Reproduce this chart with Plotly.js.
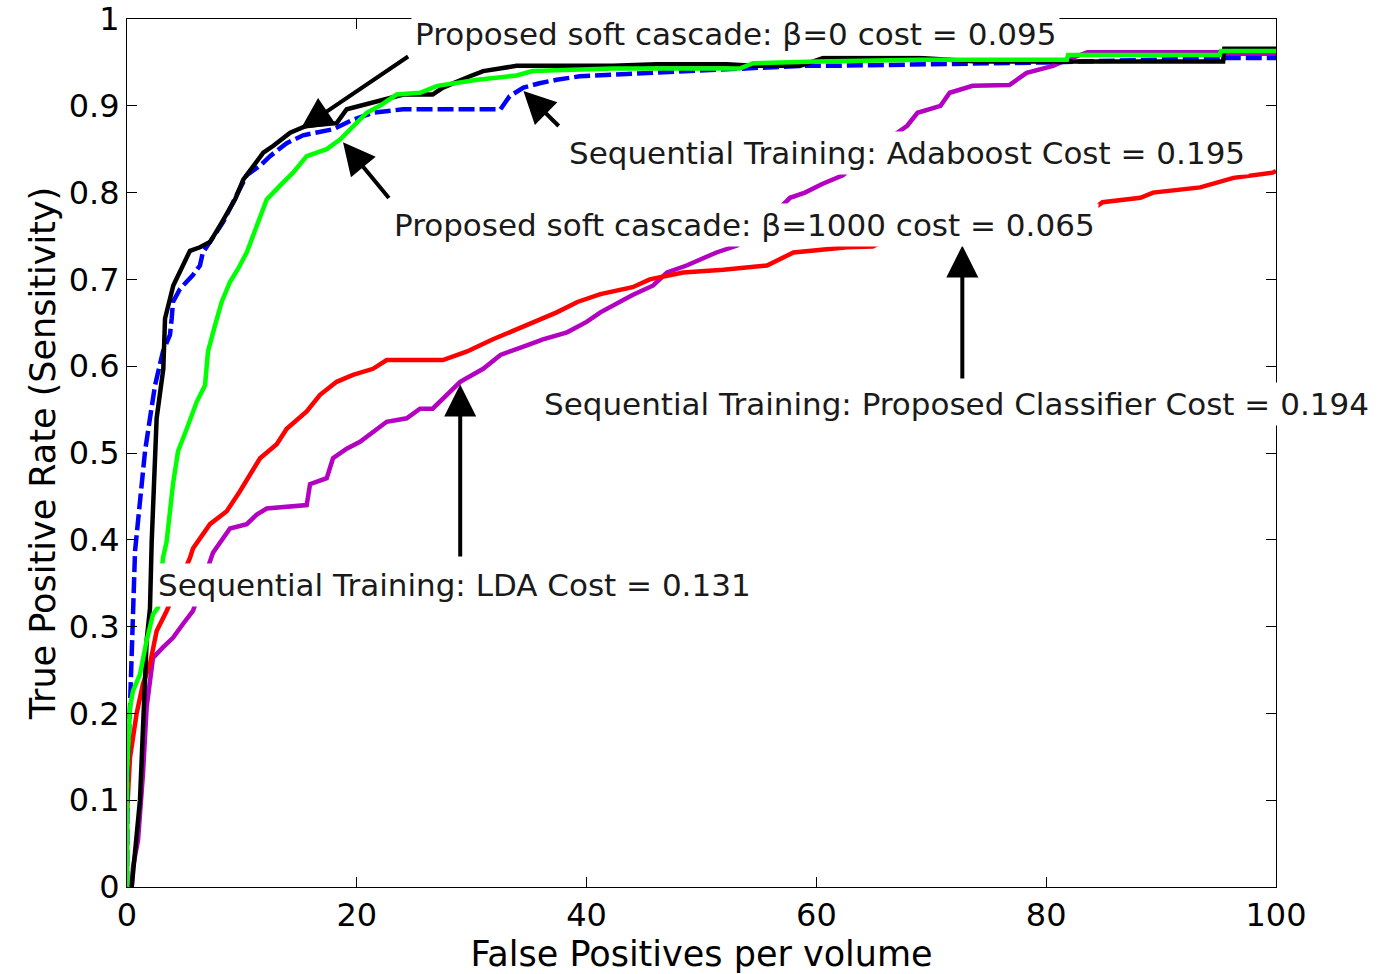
<!DOCTYPE html>
<html>
<head>
<meta charset="utf-8">
<script src="https://cdn.plot.ly/plotly-3.0.1.min.js"></script>
<style>
html,body{margin:0;padding:0;background:#fff;}
#chart{width:1379px;height:974px;}
</style>
</head>
<body>
<div id="chart"></div>
<script>
// Sequential Training: LDA (magenta)
const ldaX = [0.41,0.52,0.96,1.39,1.71,2.26,3.13,4.0,4.87,5.74,7.48,8.96,10.42,11.29,12.16,15.64,15.93,17.38,17.93,19.12,20.28,21.41,22.6,24.34,25.5,26.6,27.5,29.0,31.0,32.5,34.8,36.2,38.3,40.0,41.2,42.3,44.0,45.8,47.0,48.7,49.9,51.3,53.1,55.5,57.7,59.0,60.5,62.3,65.0,67.9,68.8,70.8,71.6,73.6,76.8,78.3,80.6,81.8,83.6,95.0,95.2,100];
const ldaY = [0,0.023,0.054,0.13,0.207,0.264,0.276,0.287,0.303,0.318,0.385,0.413,0.418,0.429,0.436,0.44,0.464,0.471,0.494,0.505,0.513,0.525,0.536,0.54,0.551,0.551,0.563,0.582,0.597,0.613,0.624,0.631,0.639,0.651,0.662,0.67,0.682,0.693,0.708,0.716,0.723,0.731,0.739,0.765,0.794,0.80,0.81,0.82,0.85,0.877,0.892,0.90,0.915,0.923,0.924,0.938,0.946,0.953,0.9617,0.9617,0.96,0.96];

// Sequential Training: Proposed Classifier (red)
const propX = [0,0,0.26,0.84,1.39,2.0,2.58,3.45,5.48,5.74,7.22,8.68,9.83,10.97,11.58,13.03,13.9,15.64,16.8,18.25,19.67,21.41,22.6,27.5,29.6,31.85,34.8,37.4,39.2,41.2,44.0,45.5,48.4,51.9,55.7,58.0,62.7,64.9,66.0,75.0,84.0,84.9,88.2,89.3,93.4,94.9,96.3,99.7,100];
const propY = [0,0.085,0.149,0.2,0.234,0.257,0.295,0.318,0.379,0.39,0.418,0.433,0.456,0.482,0.494,0.51,0.528,0.548,0.567,0.582,0.59,0.597,0.607,0.607,0.617,0.631,0.647,0.662,0.674,0.683,0.691,0.70,0.708,0.711,0.716,0.731,0.737,0.738,0.745,0.76,0.78,0.789,0.794,0.80,0.806,0.812,0.817,0.823,0.825];

// Sequential Training: Adaboost (blue dashed)
const adaX = [0,0.03,0.26,0.41,0.7,1.13,1.57,2.0,2.44,3.13,3.74,3.89,4.0,4.61,5.74,6.35,6.6,7.22,8.36,9.23,10.42,11.58,12.45,13.9,15.32,17.93,19.67,21.41,24.02,32.5,33.3,34.5,35.9,37.4,39.4,45.8,58.6,61.2,80.0,95.4,100];
const adaY = [0,0.13,0.207,0.284,0.387,0.444,0.502,0.54,0.578,0.617,0.636,0.655,0.674,0.689,0.705,0.716,0.731,0.743,0.766,0.789,0.82,0.831,0.842,0.857,0.866,0.873,0.884,0.892,0.896,0.896,0.911,0.921,0.926,0.93,0.934,0.938,0.946,0.946,0.95,0.955,0.955];

// Proposed soft cascade beta=0 (black)
const b0X = [0.41,1.13,1.71,2.0,2.15,2.58,3.16,3.31,4.03,4.76,5.48,6.35,7.22,8.09,9.4,10.12,11.0,11.86,12.74,14.2,15.64,18.25,19.12,21.44,22.6,24.05,26.6,27.5,29.85,31.0,33.9,42.3,46.1,52.2,54.5,58.6,60.6,69.0,74.0,83.0,95.4,95.5,97.7,100];
const b0Y = [0,0.1,0.284,0.321,0.398,0.54,0.597,0.655,0.693,0.712,0.733,0.737,0.743,0.762,0.792,0.815,0.831,0.846,0.854,0.869,0.877,0.88,0.896,0.904,0.907,0.913,0.913,0.921,0.934,0.94,0.946,0.946,0.948,0.948,0.946,0.946,0.955,0.955,0.951,0.951,0.951,0.9656,0.9656,0.9656];

// Proposed soft cascade beta=1000 (green)
const b1000X = [0,0,0.26,0.52,1.13,1.71,2.26,2.7,3.13,3.45,4.0,4.44,5.2,6.07,6.79,7.05,7.66,8.24,8.96,9.66,10.42,11.29,12.16,13.32,14.45,15.64,17.38,18.54,19.67,20.86,22.0,23.47,25.5,27.0,30.5,33.9,35.3,42.3,53.3,54.5,60.0,69.0,81.8,81.9,95.1,95.2,100];
const b1000Y = [0,0.13,0.207,0.226,0.245,0.284,0.314,0.322,0.379,0.398,0.464,0.502,0.528,0.559,0.578,0.617,0.647,0.674,0.697,0.712,0.731,0.762,0.792,0.808,0.823,0.842,0.85,0.861,0.877,0.892,0.90,0.913,0.915,0.923,0.93,0.935,0.94,0.943,0.943,0.949,0.951,0.953,0.953,0.9585,0.9585,0.963,0.963];

const xTicks = [0,20,40,60,80,100];
const yTicks = [0,0.1,0.2,0.3,0.4,0.5,0.6,0.7,0.8,0.9,1];

const labels = [
  "Proposed soft cascade: β=0 cost = 0.095",
  "Sequential Training: Adaboost Cost = 0.195",
  "Proposed soft cascade: β=1000 cost = 0.065",
  "Sequential Training: Proposed Classifier Cost = 0.194",
  "Sequential Training: LDA Cost = 0.131"
];
const labelX = [53.0, 67.9, 53.7, 72.15, 28.5];
const labelY = [0.983, 0.846, 0.763, 0.556, 0.348];

// arrows: head (x,y) and tail (x,y)
const headX = [15.1, 18.8, 34.5, 72.7, 29.0];
const headY = [0.873, 0.858, 0.917, 0.739, 0.579];
const tailX = [24.6, 22.9, 37.7, 72.7, 29.0];
const tailY = [0.958, 0.792, 0.875, 0.584, 0.379];

const FONT = 'DejaVu Sans, Verdana, sans-serif';
const W = 4.5;
const traces = [
  {x: ldaX, y: ldaY, mode:'lines', line:{color:'#b400c0', width:W}},
  {x: propX, y: propY, mode:'lines', line:{color:'#ff0000', width:W}},
  {x: adaX, y: adaY, mode:'lines', line:{color:'#0000ff', width:W, dash:'16px,5px'}},
  {x: b0X, y: b0Y, mode:'lines', line:{color:'#000000', width:W}},
  {x: b1000X, y: b1000Y, mode:'lines', line:{color:'#00ff00', width:W}}
];

const plotL = 127, plotR = 1276, plotT = 19, plotB = 887;
function px(x){ return plotL + x/100*(plotR-plotL); }
function py(y){ return plotB - y*(plotB-plotT); }

const annotations = [];
for (let i=0;i<headX.length;i++){
  annotations.push({
    x: headX[i], y: headY[i], xref:'x', yref:'y',
    ax: px(tailX[i]) - px(headX[i]), ay: py(tailY[i]) - py(headY[i]),
    axref:'pixel', ayref:'pixel',
    text:'', showarrow:true, arrowhead:2, arrowsize:1.6, arrowwidth:4,
    arrowcolor:'#000', standoff:0
  });
}
for (let i=0;i<labels.length;i++){
  annotations.push({
    x: labelX[i], y: labelY[i], xref:'x', yref:'y',
    text: labels[i], showarrow:false, xanchor:'center', yanchor:'middle',
    bgcolor:'#ffffff', borderpad:3,
    font:{family:FONT, size:31, color:'#1a1a1a'}
  });
}

const axisCommon = {
  showline:true, linecolor:'#000', linewidth:1, mirror:'allticks',
  ticks:'inside', ticklen:10, tickwidth:1, tickcolor:'#000',
  showgrid:false, zeroline:false, ticklabeloverflow:'allow',
  tickfont:{family:FONT, size:32, color:'#000'}
};

const layout = {
  width:1379, height:974,
  margin:{l:plotL, r:1379-plotR, t:plotT, b:974-plotB},
  paper_bgcolor:'#fff', plot_bgcolor:'#fff',
  showlegend:false,
  xaxis: Object.assign({}, axisCommon, {
    range:[0,100], tickvals:xTicks, ticktext:xTicks.map(String),
    title:{text:'False Positives per volume', standoff:2,
      font:{family:FONT, size:35, color:'#000'}}
  }),
  yaxis: Object.assign({}, axisCommon, {
    range:[0,1], tickvals:yTicks, ticktext:yTicks.map(String),
    title:{text:'True Positive Rate (Sensitivity)', standoff:2,
      font:{family:FONT, size:35, color:'#000'}}
  }),
  annotations: annotations
};

Plotly.newPlot('chart', traces, layout, {displayModeBar:false, staticPlot:true});
</script>
</body>
</html>
